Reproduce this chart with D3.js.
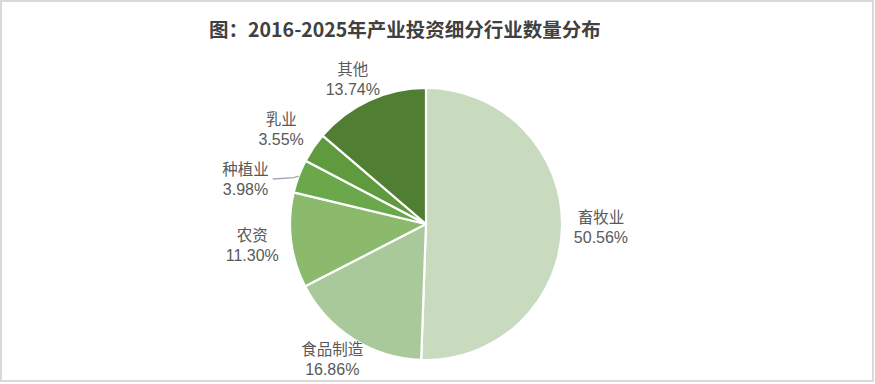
<!DOCTYPE html>
<html>
<head>
<meta charset="utf-8">
<script src="https://cdn.jsdelivr.net/npm/d3@7"></script>
<style>
  html, body { margin: 0; padding: 0; background: #fff; }
  svg { display: block; }
  text { font-family: "Noto Sans CJK SC", "Noto Sans", sans-serif; }
</style>
</head>
<body>
<svg id="chart" width="875" height="384"></svg>
<script>
// ---- data ----
const title = "图：2016-2025年产业投资细分行业数量分布";
const categories = ["畜牧业", "食品制造", "农资", "种植业", "乳业", "其他"];
const shares = [50.56, 16.86, 11.30, 3.98, 3.55, 13.74];
const shareLabels = ["50.56%", "16.86%", "11.30%", "3.98%", "3.55%", "13.74%"];

// ---- style ----
const sliceColors = ["#c9dbbf", "#a9c99a", "#8bba6d", "#6aa84b", "#5f9b3e", "#507f33"];
const W = 875, H = 384;
const cx = 426, cy = 224, r = 136;
const labelR = 175;
const plotTop = 62, plotBottom = 376;
const lineGap = 19;
const fontSize = 15.5;
const minLabelSpacing = 50;

const svg = d3.select("#chart");

svg.append("rect")
  .attr("x", 1).attr("y", 1).attr("width", W - 3).attr("height", H - 4)
  .attr("fill", "#fff").attr("stroke", "#d9d9d9").attr("stroke-width", 2);

svg.append("text")
  .attr("x", 405).attr("y", 37)
  .attr("text-anchor", "middle")
  .attr("font-size", 19.5).attr("font-weight", "bold")
  .attr("fill", "#404040")
  .text(title);

const color = d3.scaleOrdinal().domain(categories).range(sliceColors);
const pie = d3.pie().sort(null).value(d => d.v).startAngle(0).endAngle(2 * Math.PI);
const data = categories.map((c, i) => ({ c, v: shares[i], lab: shareLabels[i] }));
const arcs = pie(data);
const arc = d3.arc().innerRadius(0).outerRadius(r);

const g = svg.append("g").attr("transform", `translate(${cx},${cy})`);
g.selectAll("path").data(arcs).join("path")
  .attr("d", arc)
  .attr("fill", d => color(d.data.c))
  .attr("stroke", "#fff").attr("stroke-width", 2.2)
  .attr("stroke-linejoin", "round");

// ---- labels ----
const labelG = svg.append("g");
const labels = arcs.map(d => {
  const a = (d.startAngle + d.endAngle) / 2;
  const txt = labelG.append("text").attr("text-anchor", "middle").attr("font-size", fontSize)
    .attr("fill", "#595959");
  const s1 = txt.append("tspan").text(d.data.c);
  const s2 = txt.append("tspan").attr("font-family", "'Liberation Sans', Arial, sans-serif")
    .attr("font-size", fontSize + 0.5).text(d.data.lab);
  const w = Math.max(s1.node().getComputedTextLength(), s2.node().getComputedTextLength());
  const hh = 17;
  let x = cx + labelR * Math.sin(a);
  let y = cy - labelR * Math.cos(a);
  y = Math.max(plotTop + hh, Math.min(plotBottom - hh, y));
  return { d, a, txt, s1, s2, w, hh, x, y, y0: y };
});

// simple collision resolution on the left side (push downward)
const left = labels.filter(l => l.x < cx).sort((p, q) => p.y - q.y);
for (let i = 1; i < left.length; i++) {
  const prev = left[i - 1], cur = left[i];
  if (cur.y < prev.y + minLabelSpacing) cur.y = prev.y + minLabelSpacing;
}

labels.forEach(l => {
  const moved = Math.abs(l.y - l.y0) > 8;
  if (moved) {
    const R2 = labelR + 11;
    const dy = l.y - cy;
    l.x = cx - Math.sqrt(Math.max(0, R2 * R2 - dy * dy));
    const ax = cx + r * Math.sin(l.a), ay = cy - r * Math.cos(l.a);
    labelG.insert("path", ":first-child")
      .attr("d", d3.line()([[l.x + l.w / 2 + 4, l.y], [ax - 5, ay + 1.5], [ax, ay]]))
      .attr("fill", "none").attr("stroke", "#a9a2b8").attr("stroke-width", 1.3);
  }
  l.s1.attr("x", l.x).attr("y", l.y - lineGap / 2 + 5.5);
  l.s2.attr("x", l.x).attr("y", l.y + lineGap / 2 + 6);
});
</script>
</body>
</html>
